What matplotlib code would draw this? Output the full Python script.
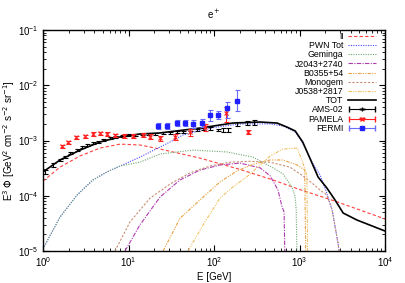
import matplotlib.pyplot as plt
from matplotlib.container import ErrorbarContainer
from matplotlib.legend_handler import HandlerErrorbar
import numpy as np

plt.rcParams['font.family'] = ['Liberation Sans', 'DejaVu Sans']

# ---- model curves: E [GeV] and E^3 Phi ----
e_ii = [1.0, 1.58, 2.71, 4.64, 7.96, 13.6, 23.4, 68.6, 201, 490, 1000, 2600, 10000]
f_ii = [1.84e-4, 3.3e-4, 5.25e-4, 7.3e-4, 8.6e-4, 8.3e-4, 7.0e-4, 4.8e-4, 3.0e-4, 1.93e-4, 1.3e-4, 8.0e-5, 3.8e-5]

e_pwn = [1.0, 1.58, 2.50, 3.84, 5.60, 7.96, 13.6, 29.0, 43.5, 89.8, 201, 453, 640, 890, 1090, 1400, 1740, 2090, 2410, 2840, 3100]
f_pwn = [1.1e-5, 4.1e-5, 1.03e-4, 1.93e-4, 2.7e-4, 3.45e-4, 5.0e-4, 9.0e-4, 1.26e-3, 1.68e-3, 1.99e-3, 2.0e-3, 1.83e-3,
         1.43e-3, 9.0e-4, 4.05e-4, 2.37e-4, 1.1e-4, 5.5e-5, 1.3e-5, 4.6e-6]

e_gem = [1.0, 1.58, 2.50, 3.84, 5.60, 7.96, 13.6, 23.4, 56.9, 142, 286, 490, 640, 815, 890, 915, 940]
f_gem = [1.1e-5, 4.1e-5, 1.03e-4, 1.93e-4, 2.7e-4, 3.45e-4, 4.05e-4, 5.7e-4, 6.7e-4, 6.2e-4, 5.0e-4, 3.2e-4, 2.5e-4,
         1.44e-4, 9.5e-5, 5.5e-5, 4.6e-6]

e_j2043 = [9.1, 13.6, 23.4, 40, 68.6, 117, 201, 346, 453, 560, 625, 660, 680]
f_j2043 = [1.0e-5, 2.96e-5, 9.5e-5, 1.93e-4, 2.92e-4, 3.6e-4, 3.9e-4, 3.2e-4, 2.3e-4, 1.27e-4, 6.3e-5, 5.1e-5, 4.6e-6]

e_b0355 = [25.4, 40, 68.6, 117, 185, 286, 453, 640, 940, 1150, 1190]
f_b0355 = [1.0e-5, 3.9e-5, 8.4e-5, 1.77e-4, 2.8e-4, 3.7e-4, 4.44e-4, 4.44e-4, 3.6e-4, 2.92e-4, 4.6e-6]

e_mono = [6.95, 10.4, 17.8, 30.6, 52.5, 89.8, 154, 264, 453, 772, 1090, 1400, 1740, 2090, 2410, 2840, 3100]
f_mono = [1.0e-5, 3.35e-5, 9.0e-5, 1.63e-4, 2.6e-4, 3.45e-4, 4.05e-4, 4.2e-4, 4.05e-4, 3.3e-4, 2.3e-4, 1.7e-4,
          1.27e-4, 1.03e-4, 5.5e-5, 1.3e-5, 4.6e-6]

e_j0538 = [49.6, 74.5, 117, 166, 242, 346, 453, 640, 940, 1090, 1220, 1250]
f_j0538 = [1.0e-5, 2.96e-5, 9.0e-5, 1.44e-4, 2.2e-4, 3.6e-4, 5.24e-4, 7.0e-4, 7.3e-4, 4.05e-4, 2.3e-4, 4.6e-6]

e_tot = [1.0, 1.58, 2.71, 4.64, 7.96, 13.6, 23.4, 68.6, 166, 346, 546, 714, 890, 1090, 1320, 1650, 2090, 2600, 3240, 4690, 10000]
f_tot = [2.7e-4, 4.44e-4, 6.7e-4, 9.4e-4, 1.16e-3, 1.31e-3, 1.37e-3, 1.68e-3, 2.07e-3, 2.16e-3, 2.07e-3, 1.75e-3,
         1.49e-3, 9.4e-4, 4.82e-4, 2.18e-4, 1.38e-4, 8.4e-5, 4.87e-5, 3.64e-5, 2.3e-5]

# ---- data points ----
e_ams = [1.055, 1.31, 1.58, 1.81, 2.07, 2.50, 2.86, 3.27, 3.84, 4.40, 5.04, 6.08, 6.95, 8.4, 9.9, 11.9, 14.5, 16.9,
         20.4, 25.4, 30.6, 37, 43.5, 52.5, 63.5, 74.5, 89.8, 111, 127, 145, 185, 242, 292]
f_ams = [2.69e-4, 3.6e-4, 4.44e-4, 5.03e-4, 5.94e-4, 6.73e-4, 7.62e-4, 8.29e-4, 9.01e-4, 9.39e-4, 1.02e-3, 1.11e-3,
         1.16e-3, 1.21e-3, 1.26e-3, 1.26e-3, 1.31e-3, 1.31e-3, 1.31e-3, 1.37e-3, 1.37e-3, 1.43e-3, 1.43e-3, 1.55e-3,
         1.55e-3, 1.62e-3, 1.68e-3, 1.55e-3, 1.55e-3, 1.55e-3, 1.99e-3, 2.07e-3, 2.16e-3]
r_ams = [0.08, 0.07, 0.06, 0.06, 0.06, 0.05, 0.05, 0.05, 0.05, 0.05, 0.05, 0.05, 0.05, 0.05, 0.05, 0.05, 0.05, 0.05,
         0.05, 0.05, 0.05, 0.05, 0.05, 0.05, 0.05, 0.05, 0.06, 0.06, 0.07, 0.07, 0.08, 0.09, 0.1]

e_pam = [1.67, 1.96, 2.43, 3.1, 3.84, 4.6, 5.6, 7.0, 8.9, 11.3, 14.8, 17.8, 23.4, 35, 52, 78, 138, 250]
f_pam = [7.9e-4, 9.3e-4, 1.15e-3, 1.2e-3, 1.31e-3, 1.34e-3, 1.31e-3, 1.25e-3, 1.23e-3, 1.2e-3, 1.28e-3, 1.18e-3,
         1.1e-3, 1.15e-3, 1.43e-3, 1.75e-3, 3.1e-3, 1.43e-3]
r_pam = [0.07, 0.07, 0.07, 0.07, 0.07, 0.07, 0.07, 0.07, 0.08, 0.08, 0.09, 0.09, 0.1, 0.12, 0.14, 0.16, 0.3, 0.08]

e_fermi = [22.2, 28.1, 36.9, 45.8, 56.9, 72.3, 89.8, 111, 142, 185]
f_fermi = [1.83e-3, 1.83e-3, 2.07e-3, 2.07e-3, 2.0e-3, 2.07e-3, 2.9e-3, 2.9e-3, 3.9e-3, 5.2e-3]
lo_fermi = [1.6e-3, 1.6e-3, 1.8e-3, 1.8e-3, 1.7e-3, 1.75e-3, 2.3e-3, 2.5e-3, 2.6e-3, 3.4e-3]
hi_fermi = [2.1e-3, 2.1e-3, 2.35e-3, 2.35e-3, 2.35e-3, 2.45e-3, 3.5e-3, 3.4e-3, 5.0e-3, 8.2e-3]

fig = plt.figure(figsize=(4.05, 2.83), dpi=100)
ax = fig.add_axes([43 / 405, 1 - 251 / 283, 342 / 405, 221 / 283])

lw = 0.8
ax.plot(e_ii, f_ii, color='#ff4040', ls=(0, (3, 2)), lw=lw, label='II')
ax.plot(e_pwn, f_pwn, color='#4a4aff', ls=(0, (1, 1.2)), lw=lw, label='PWN Tot')
ax.plot(e_gem, f_gem, color='#6fa86f', ls=(0, (1, 1.2)), lw=lw, label='Geminga')
ax.plot(e_j2043, f_j2043, color='#b03cb0', ls=(0, (4, 1.2, 1, 1.2)), lw=lw, label='J2043+2740')
ax.plot(e_b0355, f_b0355, color='#e8a040', ls=(0, (3, 1.2, 1, 1.2, 1, 1.2)), lw=lw, label='B0355+54')
ax.plot(e_mono, f_mono, color='#c88c74', ls=(0, (2, 1.5)), lw=lw, label='Monogem')
ax.plot(e_j0538, f_j0538, color='#f0c060', ls=(0, (3, 1.2, 1, 1.2, 1, 1.2)), lw=lw, label='J0538+2817')
ax.plot(e_tot, f_tot, color='black', lw=1.2, label='TOT')

f_ams = np.array(f_ams)
ax.errorbar(e_ams, f_ams, yerr=f_ams * np.array(r_ams), fmt='none', ecolor='black', elinewidth=0.8,
            capsize=1.8, capthick=0.8)
f_pam = np.array(f_pam)
ax.errorbar(e_pam, f_pam, yerr=f_pam * np.array(r_pam), fmt='x', color='#ff2020', ms=2.4, mew=0.8,
            elinewidth=0.8, capsize=1.8, capthick=0.8)
f_fermi = np.array(f_fermi)
yerr_f = [f_fermi - np.array(lo_fermi), np.array(hi_fermi) - f_fermi]
ax.errorbar(e_fermi, f_fermi, yerr=yerr_f, fmt='s', color='#2020ff', ecolor='#6a6aff', ms=2.4,
            elinewidth=0.8, capsize=1.8, capthick=0.8)

# legend proxies (outside the axes range) so the key shows gnuplot-like horizontal bars
px, py = [1e-3], [1e-7]
pe = [[1e-4], [1e-4]]
ax.errorbar(px, py, xerr=pe, yerr=[[1e-8], [1e-8]], fmt='+', color='black', ms=3, elinewidth=0.8,
            capsize=2, label='AMS-02')
ax.errorbar(px, py, xerr=pe, yerr=[[1e-8], [1e-8]], fmt='x', color='#ff2020', ms=2.4, elinewidth=0.8,
            capsize=2, label='PAMELA')
ax.errorbar(px, py, xerr=pe, yerr=[[1e-8], [1e-8]], fmt='s', color='#2020ff', ecolor='#6a6aff', ms=2.4,
            elinewidth=0.8, capsize=2, label='FERMI')

ax.set_xscale('log')
ax.set_yscale('log')
ax.set_xlim(1, 1e4)
ax.set_ylim(1e-5, 1e-1)

ax.tick_params(which='both', direction='in', top=True, right=True, labelsize=7, pad=3)
ax.tick_params(which='major', length=4.5)
ax.tick_params(which='minor', length=2.5)
for s in ax.spines.values():
    s.set_linewidth(1.0)

ax.set_xlabel('E [GeV]', fontsize=7, labelpad=2)
ax.set_ylabel(r'E$^3$ $\Phi$ [GeV$^2$ cm$^{-2}$ s$^{-2}$ sr$^{-1}$]', fontsize=7, labelpad=1)
ax.set_title(r'e$^+$', fontsize=7, pad=8)

handles, labels = ax.get_legend_handles_labels()
leg = ax.legend(handles, labels, loc='upper right', bbox_to_anchor=(376 / 405, 1 - 32 / 283),
                bbox_transform=fig.transFigure, frameon=False, markerfirst=False, fontsize=6.3,
                labelspacing=0.02, handlelength=3.2, handletextpad=0.5, borderpad=0, borderaxespad=0,
                handler_map={ErrorbarContainer: HandlerErrorbar(xerr_size=1.5, yerr_size=0.01)})

fig.savefig('out.png', dpi=100)
